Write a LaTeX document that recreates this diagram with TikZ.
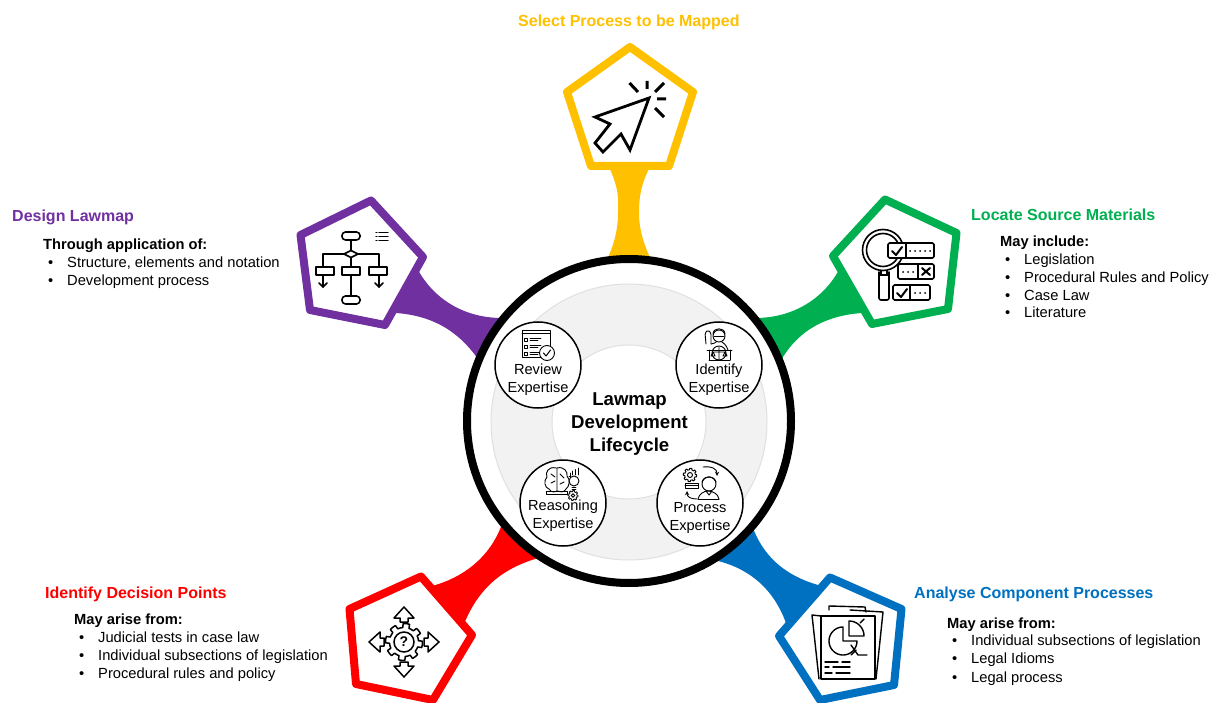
\documentclass[tikz,border=0pt]{standalone}
\usepackage{fontspec}
\setmainfont{Liberation Sans}
\definecolor{cy}{HTML}{FFC000}
\definecolor{cp}{HTML}{7030A0}
\definecolor{cg}{HTML}{00B050}
\definecolor{cr}{HTML}{FF0000}
\definecolor{cb}{HTML}{0070C0}
\tikzset{
 x=1pt,y=-1pt,
 penta/.style={fill=white,line width=8pt,line join=round},
 ttl/.style={font=\bfseries\fontsize{16}{18}\selectfont,anchor=base west,inner sep=0pt},
 sub/.style={font=\bfseries\fontsize{14.7}{16}\selectfont,anchor=base west,inner sep=0pt},
 itm/.style={font=\fontsize{14.7}{16}\selectfont,anchor=base west,inner sep=0pt},
 bul/.style={font=\fontsize{14.7}{16}\selectfont,anchor=base west,inner sep=0pt},
 ic/.style={line width=1.6pt,line join=round,line cap=round},
 ics/.style={line width=.9pt,line join=round,line cap=round},
 small/.style={circle,draw=black,fill=white,line width=1.5pt,minimum size=86pt,inner sep=0pt},
 lab/.style={font=\fontsize{14.6}{18}\selectfont,align=center,inner sep=0pt},
}
\newcommand{\gearshape}[4]{% x y r lw
 \draw[line width=#4pt,fill=white,line join=round] plot[domain=0:360,samples=145] ({#1+(sin(8*\x+22)>0?#3*1.12:#3*.88)*cos(\x)},{#2+(sin(8*\x+22)>0?#3*1.12:#3*.88)*sin(\x)}) -- cycle;
}
\newcommand{\blockarrow}[1]{%
 \draw[ic,line width=1.5pt,fill=white,rotate around={#1:(404,642)}] (404,607) -- (394,618) -- (400,618) -- (400,622) -- (408,622) -- (408,618) -- (414,618) -- cycle;
}
\begin{document}
\begin{tikzpicture}
\useasboundingbox (0,0) rectangle (1216,703);
\clip (0,0) rectangle (1216,703);
% connectors
\fill[cy] (608,165) .. controls (620,190) and (618,200) .. (618,213) .. controls (618,230) and (614,245) .. (606,262) -- (652,262) .. controls (644,245) and (639,230) .. (639,213) .. controls (639,200) and (640,185) .. (651,165) -- cycle;
\fill[cp] (417,268) .. controls (432,297) and (462,318) .. (502,318) -- (480,362) .. controls (462,335) and (437,316) .. (396,313) -- cycle;
\fill[cg] (840,268) .. controls (825,297) and (795,318) .. (755,318) -- (780,362) .. controls (795,335) and (820,316) .. (862,313) -- cycle;
\fill[cr] (432,586) .. controls (462,578) and (490,558) .. (502,524) -- (538,558) .. controls (505,568) and (480,585) .. (464,624) -- cycle;
\fill[cb] (822,586) .. controls (790,578) and (765,560) .. (753,528) -- (714,560) .. controls (750,568) and (775,590) .. (787,626) -- cycle;
% pentagons
\draw[penta,draw=cy] (630,47) -- (693,92) -- (669,166) -- (591,166) -- (567,92) -- cycle;
\draw[penta,draw=cp] (371,200.5) -- (300.5,235) -- (310,310) -- (385,325) -- (423,257) -- cycle;
\draw[penta,draw=cg] (885,199.5) -- (956.5,233) -- (948,309) -- (872,324) -- (833,256) -- cycle;
\draw[penta,draw=cr] (421,576.5) -- (349.5,609) -- (356,684) -- (433,700) -- (472,635) -- cycle;
\draw[penta,draw=cb] (830,577.5) -- (901.5,609) -- (894,685) -- (820,700) -- (779,636) -- cycle;
% cursor icon
\draw[line width=2.8pt,miter limit=4,line join=miter] (649,98) -- (595,117) -- (610,124) -- (595,143) -- (603,152) -- (621,134) -- (630,150) -- cycle;
\draw[line width=3pt] (629.5,83) -- (638,92) (647,81) -- (647,89) (664,83) -- (655,92) (657,99) -- (666,99) (655,108) -- (664,117);
% flowchart icon
\begin{scope}[ic]
\draw (351,240) -- (351,250) (323,275) -- (323,287) (379,275) -- (379,287);
\draw (323,267) -- (323,254) -- (379,254) -- (379,267) (351,258) -- (351,296);
\draw[fill=white] (344,254) -- (351,250.5) -- (358,254) -- (351,257.5) -- cycle;
\draw[fill=white,rounded corners=3.5pt] (342,232) rectangle (360,240);
\draw[fill=white,rounded corners=3.5pt] (342,296) rectangle (360,304);
\draw[fill=white] (316,267) rectangle (334,275);
\draw[fill=white] (342,267) rectangle (360,275);
\draw[fill=white] (369,267) rectangle (387,275);
\draw (319,283) -- (323,287) -- (327,283) (375,283) -- (379,287) -- (383,283);
\draw[line width=1.3pt] (379,232.5) -- (388,232.5) (379,236.5) -- (388,236.5) (379,240.5) -- (388,240.5);
\draw[line width=1.3pt] (376,232.5) -- (377,232.5) (376,236.5) -- (377,236.5) (376,240.5) -- (377,240.5);
\end{scope}
% magnifier icon
\begin{scope}[ic]
\draw[rounded corners=2pt] (879,272) -- (879,300) -- (889,300) -- (889,272);
\draw (883,250) circle[radius=20.5];
\draw (883,250) circle[radius=16.5];
\draw (881,271) -- (881,274) (887,271) -- (887,274) (879,275) -- (889,275);
\draw[fill=white,rounded corners=1.5pt] (888,243) rectangle (934,258);
\draw (906,243) -- (906,258);
\draw[line width=2pt] (892,251) -- (896,255) -- (902,247);
\draw[fill=white,rounded corners=1.5pt] (898,264) rectangle (934,279);
\draw (918,264) -- (918,279);
\draw[line width=2pt] (922,268) -- (930,275) (930,268) -- (922,275);
\draw[fill=white,rounded corners=1.5pt] (893,285) rectangle (930,300);
\draw (910,285) -- (910,300);
\draw[line width=2pt] (897,293) -- (901,297) -- (907,289);
\foreach \x in {910,915,920,925,930}{\fill (\x,251) circle[radius=1];}
\foreach \x in {903,908,913}{\fill (\x,272) circle[radius=1];}
\foreach \x in {915,920,925}{\fill (\x,293) circle[radius=1];}
\end{scope}
% decision icon
\gearshape{404}{642}{16.5}{1.5}
\draw[line width=1.5pt] (404,642) circle[radius=10];
\node[inner sep=0pt,font=\bfseries\fontsize{14}{14}\selectfont] (q) at (404,642) {?};
\blockarrow{0}\blockarrow{90}\blockarrow{180}\blockarrow{270}
% document icon
\begin{scope}[ic,line width=1.4pt]
\draw (829,610) -- (829,606) -- (865,607) -- (866,612);
\draw (821,616) -- (812,615) -- (819,679) (876,679) -- (883,612) -- (850,610);
\draw[fill=white] (821,616) rectangle (875,679);
\draw plot[domain=-360:-90,samples=40] ({843+14*cos(\x)},{641+14*sin(\x)}) -- (843,641) -- cycle;
\draw plot[domain=-90:0,samples=20] ({849+15*cos(\x)},{636+15*sin(\x)}) -- (849,636) -- cycle;
\draw (851,645) -- (858,655) -- (867,655) (864,619) -- (860,623) (851,655) -- (856,650);
\draw (825,662) -- (838,662) (842,662) -- (850,662) (825,667) -- (829,667) (833,667) -- (850,667) (825,673) -- (832,673) (836,673) -- (850,673);
\end{scope}
% main circle
\node[circle,draw=black,fill=white,line width=8pt,minimum size=324pt,inner sep=0pt] (main) at (629,421) {};
\node[circle,draw=black!12,fill=black!5,line width=1pt,minimum size=276pt,inner sep=0pt] (ring) at (629,422) {};
\node[circle,draw=black!12,fill=white,line width=1pt,minimum size=154pt,inner sep=0pt] (hub) at (629,422) {};
\node[font=\bfseries\fontsize{18.6}{23}\selectfont,align=center,inner sep=0pt] (mt) at (629.5,424) {Lawmap\\Development\\Lifecycle};
\node[small] (s1) at (538,365) {};
\node[small] (s2) at (719,365) {};
\node[small] (s3) at (563,503) {};
\node[small] (s4) at (700,503) {};
\node[lab] (l1) at (538,380) {Review\\Expertise};
\node[lab] (l2) at (719,379.5) {Identify\\Expertise};
\node[lab] (l3) at (563,515.5) {Reasoning\\Expertise};
\node[lab] (l4) at (700,518) {Process\\Expertise};
% small icon: review
\begin{scope}[ics]
\draw (522,330) rectangle (550,357);
\draw (522,333) -- (550,333);
\foreach \y in {338,345,352}{\draw (524,\y) rectangle (527,\y+3); \draw (530,\y) -- (541,\y) (530,\y+2) -- (538,\y+2);}
\draw[fill=white] (547,353) circle[radius=7.5];
\draw[line width=1pt] (543.5,353) -- (546,356) -- (550.5,350);
\end{scope}
% small icon: identify
\begin{scope}[ics]
\draw[rounded corners=1.5pt] (706,344) -- (705,333) -- (708,330) -- (711,333) -- (711,344);
\draw (719,336) circle[radius=6];
\draw (713,334) .. controls (713,327) and (725,327) .. (725,334);
\draw (714,336) -- (724,336);
\draw (711,344) .. controls (714,343) and (716,343) .. (716,342) (722,342) .. controls (723,343) and (726,344) .. (728,350);
\draw (707,350) -- (732,350) (709,350) -- (709,360) (730,350) -- (730,360) (709,360) -- (730,360);
\draw (719,353) circle[radius=7];
\draw (719,347) -- (719,360) (713,352) -- (725,352) (713,352) -- (711,356) -- (715,356) -- cycle (725,352) -- (723,356) -- (727,356) -- cycle;
\end{scope}
% small icon: reasoning
\begin{scope}[ics]
\draw (556,468) .. controls (548,466) and (545,473) .. (547,477) .. controls (543,481) and (545,488) .. (549,489) .. controls (551,493) and (556,492) .. (557,491) -- (557,468);
\draw (557,468) .. controls (564,466) and (568,472) .. (567,476) .. controls (571,480) and (569,487) .. (566,489) .. controls (564,493) and (560,492) .. (557,491);
\draw (551,474) -- (555,477) (551,483) -- (555,481) (560,474) -- (564,478) (560,484) -- (564,482);
\draw (574,481) circle[radius=5];
\draw (572,487) -- (576,487) (572,489) -- (576,489);
\draw (569,476) -- (571,476) (570,476) -- (570,473) (572.5,475) -- (572.5,471) (575,475) -- (575,469.5) (578,475) -- (578,468);
\draw (546,491.5) rectangle (567,494);
\end{scope}
\gearshape{573}{495.5}{4.5}{.8}
\draw[line width=.8pt] (573,495.5) circle[radius=1.8];
% small icon: process
\begin{scope}[ics]
\draw (685,483) rectangle (698,488) (685,485.5) -- (698,485.5);
\draw[->,>=stealth] (703,467) .. controls (712,466) and (717,469) .. (717,476);
\draw[->,>=stealth] (697,499) .. controls (691,499) and (687,497) .. (687,491);
\draw (709,484) circle[radius=7];
\draw (702,482) .. controls (704,475) and (714,475) .. (716,482);
\draw (698,499) .. controls (699,494) and (704,491) .. (708,491) .. controls (713,491) and (718,494) .. (719,499);
\draw (698,499) -- (719,499);
\draw (706,491) -- (709,495) -- (712,491);
\end{scope}
\gearshape{690}{475}{6}{.9}
\draw[line width=.9pt] (690,475) circle[radius=2.5];
% titles
\node[ttl,text=cy] (t1) at (518,27) {Select Process to be Mapped};
\node[ttl,text=cp] (t2) at (12,222) {Design Lawmap};
\node[ttl,text=cg] (t3) at (971,221) {Locate Source Materials};
\node[ttl,text=cr] (t4) at (45,598) {Identify Decision Points};
\node[ttl,text=cb] (t5) at (914,598) {Analyse Component Processes};
% lists
\node[sub] (a0) at (43,250) {Through application of:};
\node[bul] (ab1) at (48,268) {•};
\node[itm] (a1) at (67,268) {Structure, elements and notation};
\node[bul] (ab2) at (48,285.5) {•};
\node[itm] (a2) at (67,285.5) {Development process};
\node[sub] (b0) at (1000,246.5) {May include:};
\node[bul] (bb1) at (1005,265) {•};
\node[itm] (b1) at (1024,265) {Legislation};
\node[bul] (bb2) at (1005,282.5) {•};
\node[itm] (b2) at (1024,282.5) {Procedural Rules and Policy};
\node[bul] (bb3) at (1005,300.5) {•};
\node[itm] (b3) at (1024,300.5) {Case Law};
\node[bul] (bb4) at (1005,318) {•};
\node[itm] (b4) at (1024,318) {Literature};
\node[sub] (c0) at (74,624) {May arise from:};
\node[bul] (cb1) at (79,642) {•};
\node[itm] (c1) at (98,642) {Judicial tests in case law};
\node[bul] (cb2) at (79,660) {•};
\node[itm] (c2) at (98,660) {Individual subsections of legislation};
\node[bul] (cb3) at (79,678) {•};
\node[itm] (c3) at (98,678) {Procedural rules and policy};
\node[sub] (d0) at (947,628) {May arise from:};
\node[bul] (db1) at (952,645.5) {•};
\node[itm] (d1) at (971,645.5) {Individual subsections of legislation};
\node[bul] (db2) at (952,663.5) {•};
\node[itm] (d2) at (971,663.5) {Legal Idioms};
\node[bul] (db3) at (952,682) {•};
\node[itm] (d3) at (971,682) {Legal process};
\end{tikzpicture}
\end{document}
